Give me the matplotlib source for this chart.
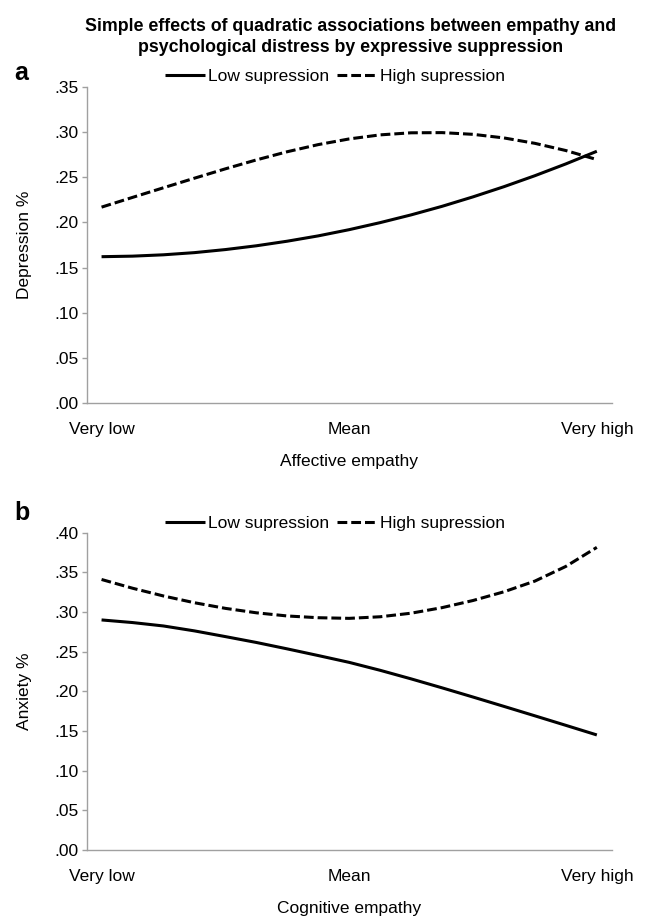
import matplotlib
matplotlib.use("Agg")
import matplotlib.pyplot as plt

plt.rcParams['font.family'] = ['Liberation Sans', 'DejaVu Sans']

# empathy level: -1 = very low, 0 = mean, 1 = very high
empathy_x = [-1.0, -0.875, -0.75, -0.625, -0.5, -0.375, -0.25, -0.125, 0.0,
             0.125, 0.25, 0.375, 0.5, 0.625, 0.75, 0.875, 1.0]
x_ticks = [-1.0, 0.0, 1.0]
x_tick_labels = ['Very low', 'Mean', 'Very high']

# panel a - affective empathy vs depression
dep_low = [0.1620, 0.1626, 0.1641, 0.1665, 0.1699, 0.1741, 0.1792, 0.1851,
           0.1920, 0.1998, 0.2084, 0.2179, 0.2284, 0.2397, 0.2519, 0.2650,
           0.2790]
dep_high = [0.2170, 0.2278, 0.2385, 0.2491, 0.2595, 0.2694, 0.2785, 0.2864,
            0.2927, 0.2972, 0.2995, 0.2997, 0.2978, 0.2938, 0.2878, 0.2798,
            0.2698]
dep_ticks = [0.00, 0.05, 0.10, 0.15, 0.20, 0.25, 0.30, 0.35]
dep_tick_labels = ['.00', '.05', '.10', '.15', '.20', '.25', '.30', '.35']

# panel b - cognitive empathy vs anxiety
anx_low = [0.2900, 0.2867, 0.2824, 0.2762, 0.2690, 0.2616, 0.2535, 0.2451,
           0.2365, 0.2265, 0.2157, 0.2044, 0.1928, 0.1810, 0.1691, 0.1571,
           0.1450]
anx_high = [0.3410, 0.3300, 0.3202, 0.3117, 0.3046, 0.2990, 0.2950, 0.2928,
            0.2920, 0.2940, 0.2985, 0.3055, 0.3145, 0.3255, 0.3390, 0.3575,
            0.3815]
anx_ticks = [0.00, 0.05, 0.10, 0.15, 0.20, 0.25, 0.30, 0.35, 0.40]
anx_tick_labels = ['.00', '.05', '.10', '.15', '.20', '.25', '.30', '.35', '.40']

series_names = ['Low supression', 'High supression']

FS = 12.5
GREY = '#a0a0a0'


def draw_panel(ax, low, high, yticks, ylabels, ylabel, xlabel, legend_y):
    ax.plot(empathy_x, low, color='black', lw=2.2, solid_capstyle='butt',
            solid_joinstyle='round', label=series_names[0])
    ax.plot(empathy_x, high, color='black', lw=2.2, ls=(0, (3.2, 1.3)),
            dash_joinstyle='round', label=series_names[1])

    ax.set_xlim(-1.06, 1.06)
    ax.set_ylim(yticks[0], yticks[-1])
    ax.set_xticks(x_ticks)
    ax.set_xticklabels(x_tick_labels, fontsize=FS)
    ax.set_yticks(yticks)
    ax.set_yticklabels(ylabels, fontsize=FS)

    for side in ('top', 'right'):
        ax.spines[side].set_visible(False)
    for side in ('left', 'bottom'):
        ax.spines[side].set_color(GREY)
        ax.spines[side].set_linewidth(1.0)

    ax.tick_params(axis='x', length=0, pad=14)
    ax.tick_params(axis='y', length=3.6, width=1.0, color=GREY, pad=2)
    ax.set_xlabel(xlabel, fontsize=FS, labelpad=12)
    ax.set_ylabel(ylabel, fontsize=FS, labelpad=16)

    fig.legend(handles=ax.get_lines(), loc='center',
               bbox_to_anchor=(0.5186, legend_y), ncol=2, frameon=False,
               fontsize=FS, handlelength=2.3, handletextpad=0.15,
               columnspacing=0.5, borderpad=0)


fig = plt.figure(figsize=(6.46, 9.17), dpi=100)

ax_a = fig.add_axes([0.1342, 0.5609, 0.8127, 0.3439])
ax_b = fig.add_axes([0.1342, 0.0731, 0.8127, 0.3460])

draw_panel(ax_a, dep_low, dep_high, dep_ticks, dep_tick_labels,
           'Depression %', 'Affective empathy', 1 - 76.7 / 917)
draw_panel(ax_b, anx_low, anx_high, anx_ticks, anx_tick_labels,
           'Anxiety %', 'Cognitive empathy', 1 - 523 / 917)

fig.text(0.543, 1 - 18 / 917,
         'Simple effects of quadratic associations between empathy and\n'
         'psychological distress by expressive suppression',
         ha='center', va='top', fontsize=12.8, fontweight='bold',
         linespacing=1.3)
fig.text(14 / 646, 1 - 80 / 917, 'a', fontsize=18, fontweight='bold',
         ha='left', va='baseline')
fig.text(14 / 646, 1 - 520 / 917, 'b', fontsize=18, fontweight='bold',
         ha='left', va='baseline')

fig.savefig('out.png', dpi=100)
